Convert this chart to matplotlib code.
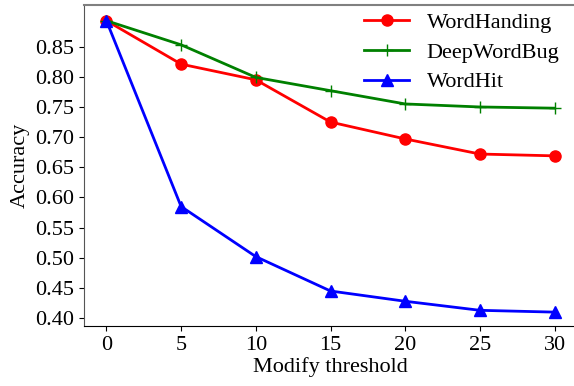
import matplotlib
matplotlib.use("Agg")
import matplotlib.pyplot as plt

plt.rcParams["font.family"] = ["Liberation Serif", "DejaVu Serif"]

thresholds = [0, 5, 10, 15, 20, 25, 30]
word_handing = [0.893, 0.821, 0.795, 0.725, 0.697, 0.672, 0.669]
deep_word_bug = [0.893, 0.853, 0.799, 0.777, 0.755, 0.750, 0.748]
word_hit = [0.893, 0.585, 0.502, 0.445, 0.428, 0.413, 0.410]
y_ticks = [0.40, 0.45, 0.50, 0.55, 0.60, 0.65, 0.70, 0.75, 0.80, 0.85]

fig = plt.figure(figsize=(5.74, 3.86), dpi=100)
# axes runs a bit past the right edge, as in the cropped original
ax = fig.add_axes([84 / 574, 60 / 386, 493 / 574, 321 / 386])

ax.plot(thresholds, word_handing, color="red", marker="o", markersize=8,
        linewidth=2, label="WordHanding")
ax.plot(thresholds, deep_word_bug, color="green", marker="+", markersize=9,
        linewidth=2, label="DeepWordBug")
ax.plot(thresholds, word_hit, color="blue", marker="^", markersize=8,
        linewidth=2, label="WordHit")

ax.set_xlim(-1.5, 31.5)
ax.set_ylim(0.387, 0.919)
ax.set_xticks(thresholds)
ax.set_yticks(y_ticks)
ax.set_yticklabels([f"{v:.2f}" for v in y_ticks])
ax.tick_params(labelsize=16)
ax.set_xlabel("Modify threshold", fontsize=16, labelpad=2)
ax.set_ylabel("Accuracy", fontsize=16, labelpad=4)

ax.spines["right"].set_visible(False)
ax.spines["top"].set_color("#808080")
ax.spines["top"].set_linewidth(1.5)
ax.spines["left"].set_color("#555555")

ax.legend(loc="upper right", fontsize=16, frameon=False,
          bbox_to_anchor=(1.005, 1.04), handlelength=2.0, labelspacing=0.42)

fig.savefig("out.png", dpi=100)
